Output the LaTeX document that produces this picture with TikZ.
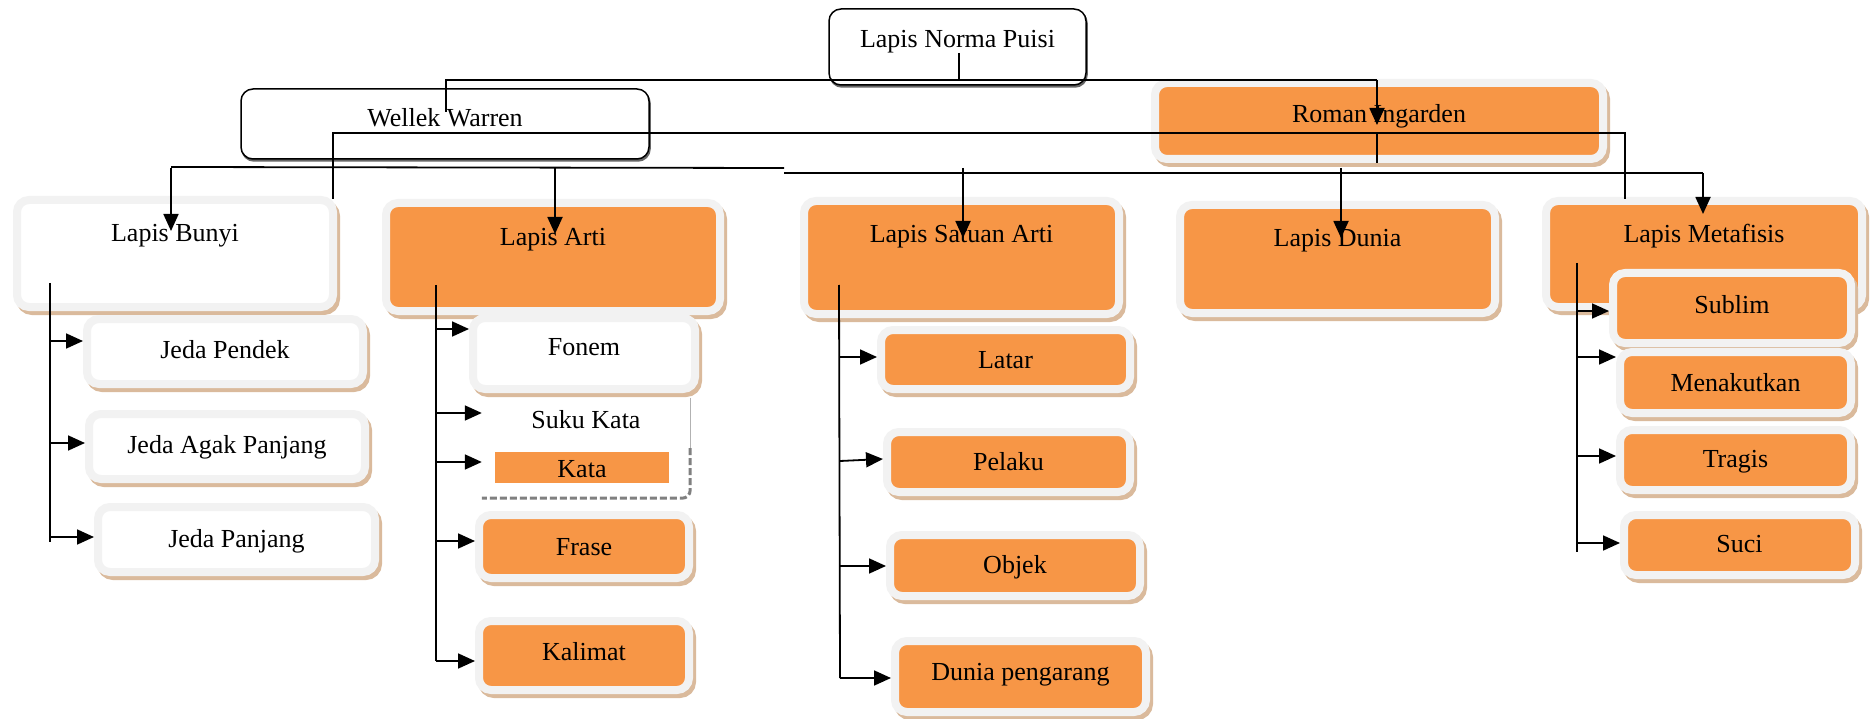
\documentclass[tikz,border=0pt]{standalone}
\usepackage{fontspec}
\setmainfont{Liberation Serif}
\usetikzlibrary{arrows.meta,shadows}
\definecolor{myorange}{RGB}{247,150,70}
\definecolor{framec}{RGB}{242,242,242}
\definecolor{shadowc}{RGB}{218,186,156}
\newcommand\mybox[8]{%
  \pgfmathsetmacro\bxcx{(#3+#5)/2}%
  \pgfmathsetmacro\bxcy{(#4+#6)/2}%
  \pgfmathsetmacro\bxth{#7-#4}%
  \pgfmathsetmacro\bxtd{#6-#7}%
  \pgfmathsetmacro\bxw{#5-#3}%
  \node[#1, anchor=center, inner sep=0pt, minimum width=\bxw pt, text height=\bxth pt, text depth=\bxtd pt] (#2) at (\bxcx,\bxcy) {#8};%
}
\begin{document}
\begin{tikzpicture}[x=1pt,y=-1pt,font=\fontsize{26}{30}\selectfont,
 conn/.style={draw=black, line width=1.8pt},
 arr/.style={conn, -{Triangle[length=17pt,width=15pt]}},
 obox/.style={rounded corners=12pt, fill=myorange, draw=framec, line width=8pt,
   drop shadow={shadow xshift=3pt, shadow yshift=-4pt, fill=shadowc, draw=shadowc, line width=8pt, opacity=1}},
 wbox/.style={obox, fill=white},
 lbox/.style={rounded corners=12pt, fill=white, draw=black, line width=1.5pt,
   drop shadow={shadow xshift=1pt, shadow yshift=-2pt, fill=black!60, draw=black!60, line width=1.5pt, opacity=1}},
 skbox/.style={fill=white, rounded corners=8pt},
 kbox/.style={fill=myorange}]
\fill[white] (0,0) rectangle (1876,719);
\useasboundingbox (0,0) rectangle (1876,719);

% top level
\mybox{lbox}{lnp}{829}{9}{1086}{85}{48}{Lapis Norma Puisi}
\mybox{lbox}{ww}{241}{89}{649}{159}{127}{Wellek Warren}
\mybox{obox}{ri}{1155}{83}{1603}{159}{123}{Roman Ingarden}

% second level
\mybox{wbox}{lb}{17}{200}{333}{307}{242}{Lapis Bunyi}
\mybox{obox}{la}{386}{203}{720}{311}{246}{Lapis Arti}
\mybox{obox}{lsa}{804}{201}{1119}{314}{243}{Lapis Satuan Arti}
\mybox{obox}{ld}{1180}{205}{1495}{313}{247}{Lapis Dunia}
\mybox{obox}{lm}{1546}{201}{1862}{307}{243}{Lapis Metafisis}

% Lapis Bunyi children
\mybox{wbox}{jp}{87}{319}{363}{384}{358}{Jeda Pendek}
\mybox{wbox}{jap}{89}{414}{365}{479}{453}{Jeda Agak Panjang}
\mybox{wbox}{jpj}{98}{507}{375}{572}{547}{Jeda Panjang}

% Lapis Arti children
\mybox{wbox}{fon}{473}{318}{695}{389}{355}{Fonem}
\mybox{skbox}{sk}{482}{398}{690}{498}{428}{Suku Kata}
\mybox{kbox}{kata}{495}{452}{669}{483}{477}{Kata}
\mybox{obox}{fr}{479}{515}{689}{578}{555}{Frase}
\mybox{obox}{kal}{479}{621}{689}{690}{660}{Kalimat}
\draw[gray!60, line width=1.2pt] (sk.north east) -- (sk.east);
\draw[gray, line width=3pt, dash pattern=on 7pt off 3pt, rounded corners=8pt] (sk.east) -- (sk.south east) -- (sk.south west);

% Lapis Satuan Arti children
\mybox{obox}{lat}{881}{330}{1130}{389}{368}{Latar}
\mybox{obox}{pel}{887}{432}{1130}{492}{470}{Pelaku}
\mybox{obox}{obj}{890}{535}{1140}{596}{573}{Objek}
\mybox{obox}{dp}{895}{641}{1146}{712}{680}{Dunia pengarang}

% Lapis Metafisis children
\mybox{obox}{sub}{1613}{273}{1851}{343}{313}{Sublim}
\mybox{obox}{men}{1620}{352}{1851}{413}{391}{Menakutkan}
\mybox{obox}{tra}{1620}{430}{1851}{490}{467}{Tragis}
\mybox{obox}{suc}{1624}{515}{1855}{575}{552}{Suci}

% ---- connectors ----
\coordinate (lnpstem) at (959,53);
\coordinate (topbusL) at (446,80);
\coordinate (topbusR) at (1377,80);
\coordinate (wwend) at (446,112);
\coordinate (ritip) at (1377,125);
\draw[conn] (lnpstem) -- (lnpstem |- topbusL);
\draw[conn] (wwend) -- (topbusL) -- (topbusR);
\draw[arr] (topbusR) -- (ritip);

\coordinate (wwa) at (333,199);
\coordinate (wwb) at (1625,199);
\draw[conn] (wwa) -- (333,133) -- (1625,133) -- (wwb);

\coordinate (ristem) at (1377,133);
\draw[conn] (ristem) -- (1377,163);

\coordinate (busA) at (171,168);
\coordinate (busB) at (784,168);
\coordinate (busC) at (784,173);
\coordinate (busD) at (1703,173);
\coordinate (tlb) at (171,231);
\coordinate (tla) at (555,234);
\coordinate (tlsa) at (963,238);
\coordinate (tld) at (1341,238);
\coordinate (tlm) at (1703,214);
\draw[conn] ([yshift=1pt]busA) -- (busB);
\draw[conn] (busC) -- (busD);
\draw[arr] (busA) -- (tlb);
\draw[arr] (tla |- busA) -- (tla);
\draw[arr] (tlsa |- busA) -- (tlsa);
\draw[arr] (tld |- busA) -- (tld);
\draw[arr] (busD) -- (tlm);

% Lapis Bunyi spine
\coordinate (s1t) at (50,283);
\coordinate (s1b) at (50,542);
\draw[conn] (s1t) -- (s1b);
\draw[arr] (50,341) -- (jp.west |- 0,341);
\draw[arr] (50,443) -- (jap.west |- 0,443);
\draw[arr] (50,537) -- (jpj.west |- 0,537);

% Lapis Arti spine
\coordinate (s2t) at (436,285);
\coordinate (s2b) at (436,661);
\draw[conn] (s2t) -- (s2b);
\draw[arr] (436,329) -- (fon.west |- 0,329);
\draw[arr] (436,413) -- (sk.west |- 0,413);
\draw[arr] (436,462) -- (sk.west |- 0,462);
\draw[arr] (436,541) -- (fr.west |- 0,541);
\draw[arr] (s2b) -- (kal.west |- 0,661);

% Lapis Satuan Arti spine
\coordinate (s3t) at (839,285);
\coordinate (s3b) at (840,678);
\draw[conn] (s3t) -- (s3b);
\draw[arr] (839,357) -- (lat.west |- 0,357);
\draw[arr] (840,461) -- (pel.west |- 0,459);
\draw[arr] (840,566) -- (obj.west |- 0,566);
\draw[arr] (s3b) -- (dp.west |- 0,678);

% Lapis Metafisis spine
\coordinate (s4t) at (1577,263);
\coordinate (s4b) at (1577,552);
\draw[conn] (s4t) -- (s4b);
\draw[arr] (1577,311) -- (sub.west |- 0,311);
\draw[arr] (1577,357) -- (men.west |- 0,357);
\draw[arr] (1577,456) -- (tra.west |- 0,456);
\draw[arr] (1577,543) -- (suc.west |- 0,543);
\end{tikzpicture}
\end{document}
